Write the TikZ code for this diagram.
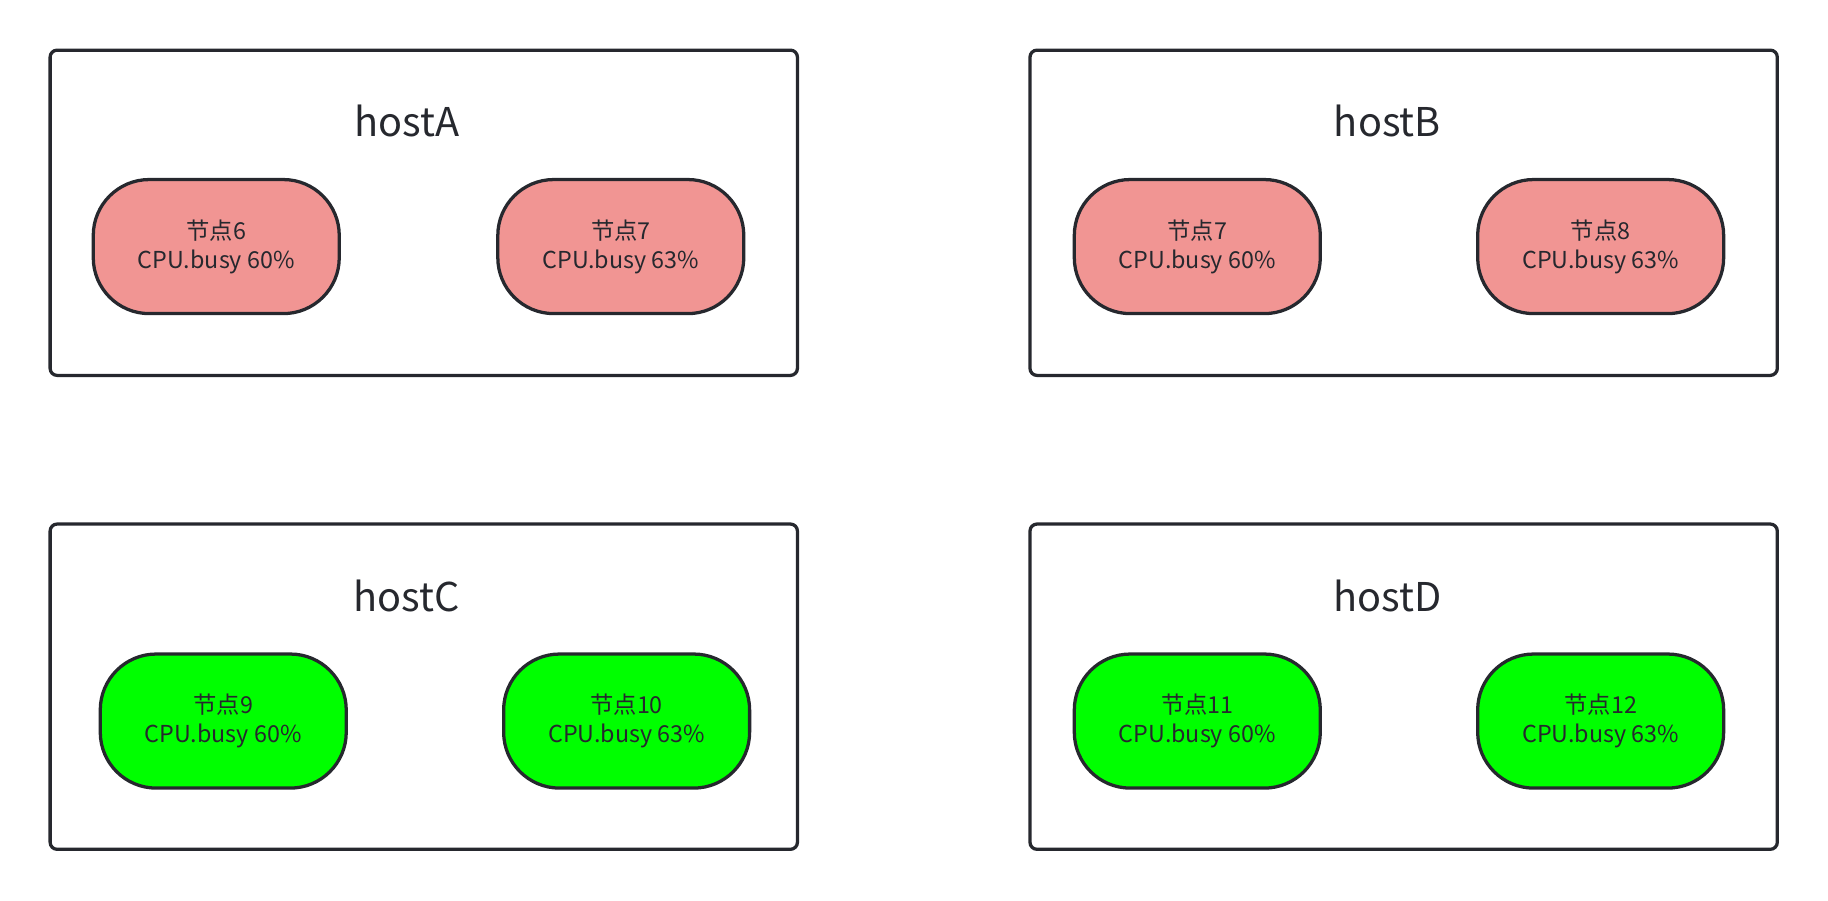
\documentclass[tikz,border=0pt]{standalone}
\usepackage{fontspec}
\setmainfont{Noto Sans CJK SC}
\definecolor{pinkfill}{RGB}{241, 149, 147}
\definecolor{greenfill}{RGB}{0, 255, 0}
\definecolor{bordergray}{RGB}{38, 40, 46}
\begin{document}
\begin{tikzpicture}[x = 0.5pt, y = -0.5pt, line width = 1.4pt,
  host/.style = {draw = bordergray, rounded corners = 3pt, minimum width = 320.5pt, minimum height = 139.5pt, inner sep = 0pt},
  pill/.style = {draw = bordergray, rounded corners = 24pt, minimum width = 105.5pt, minimum height = 57.5pt, align = center, font = \fontsize{10}{12.5}\selectfont, text = bordergray, inner sep = 0pt},
  title/.style = {font = \fontsize{17}{20}\selectfont, text = bordergray}]
\useasboundingbox (0,0) rectangle (1568,772);
% hosts
\node[host] (hA) at (363.5,182.5) {};
\node[host] (hB) at (1204,182.5) {};
\node[host] (hC) at (363.5,589) {};
\node[host] (hD) at (1204,589) {};
\node[title] (tA) at (349,104) {hostA};
\node[title] (tB) at (1190,104) {hostB};
\node[title] (tC) at (349,511) {hostC};
\node[title] (tD) at (1190,511) {hostD};
% nodes
\node[pill, fill = pinkfill] (n6) at (185.5,211.5) {节点6\\CPU.busy 60\%};
\node[pill, fill = pinkfill] (n7a) at (532.5,211.5) {节点7\\CPU.busy 63\%};
\node[pill, fill = pinkfill] (n7b) at (1027,211.5) {节点7\\CPU.busy 60\%};
\node[pill, fill = pinkfill] (n8) at (1373,211.5) {节点8\\CPU.busy 63\%};
\node[pill, fill = greenfill] (n9) at (191.5,618.5) {节点9\\CPU.busy 60\%};
\node[pill, fill = greenfill] (n10) at (537.5,618.5) {节点10\\CPU.busy 63\%};
\node[pill, fill = greenfill] (n11) at (1027,618.5) {节点11\\CPU.busy 60\%};
\node[pill, fill = greenfill] (n12) at (1373,618.5) {节点12\\CPU.busy 63\%};
\end{tikzpicture}
\end{document}
